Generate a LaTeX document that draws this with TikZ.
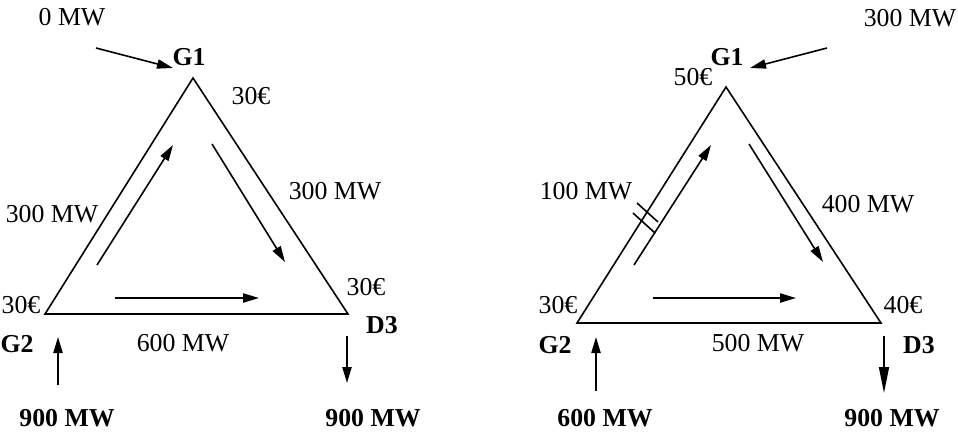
\documentclass[tikz,border=0pt]{standalone}
\usepackage{fontspec}
\setmainfont{Liberation Serif}
\usetikzlibrary{arrows.meta}
\begin{document}
\begin{tikzpicture}[x=0.5pt,y=-0.5pt,
  line width=0.8pt,
  lbl/.style={inner sep=0pt,font=\fontsize{12.9}{14}\selectfont},
  blbl/.style={inner sep=0pt,font=\fontsize{12.9}{14}\selectfont\bfseries},
  flow/.style={-{Triangle[length=8pt,width=4.6pt]}},
  bigflow/.style={-{Triangle[length=13pt,width=5pt]}}]
\useasboundingbox (0,0) rectangle (958,436);
% ---------- left panel ----------
\coordinate (LA) at (193,78);
\coordinate (LB) at (45,314);
\coordinate (LC) at (348,314);
\draw (LA) -- (LB) -- (LC) -- cycle;
\coordinate (la1) at (97,265); \coordinate (la2) at (173,145);
\draw[flow] (la1) -- (la2);
\coordinate (lb1) at (212,144); \coordinate (lb2) at (285,262);
\draw[flow] (lb1) -- (lb2);
\coordinate (lc1) at (115,298); \coordinate (lc2) at (259,298);
\draw[flow] (lc1) -- (lc2);
\coordinate (li1) at (96,48); \coordinate (li2) at (173,68);
\draw[flow] (li1) -- (li2);
\coordinate (lg1) at (58,385); \coordinate (lg2) at (58,337);
\draw[flow] (lg1) -- (lg2);
\coordinate (ld1) at (347,336); \coordinate (ld2) at (347,383);
\draw[flow] (ld1) -- (ld2);
\node[lbl] (l0mw) at (72,17) {0 MW};
\node[blbl] (lG1) at (189,57) {G1};
\node[lbl] (lp1) at (251,96) {30€};
\node[lbl] (lf13) at (335,191) {300 MW};
\node[lbl] (lf21) at (52,214) {300 MW};
\node[lbl] (lp2) at (21,305) {30€};
\node[lbl] (lp3) at (366,287) {30€};
\node[blbl] (lD3) at (382,325) {D3};
\node[blbl] (lG2) at (17,344) {G2};
\node[lbl] (lf23) at (183,343) {600 MW};
\node[blbl] (lg) at (67,418) {900 MW};
\node[blbl] (ld) at (373,418) {900 MW};
% ---------- right panel ----------
\coordinate (RA) at (726,87);
\coordinate (RB) at (577,323);
\coordinate (RC) at (881,323);
\draw (RA) -- (RB) -- (RC) -- cycle;
\coordinate (ra1) at (634,265); \coordinate (ra2) at (711,145);
\draw[flow] (ra1) -- (ra2);
\coordinate (rb1) at (749,144); \coordinate (rb2) at (823,262);
\draw[flow] (rb1) -- (rb2);
\coordinate (rc1) at (653,298); \coordinate (rc2) at (796,298);
\draw[flow] (rc1) -- (rc2);
\coordinate (ri1) at (827,48); \coordinate (ri2) at (750,68);
\draw[flow] (ri1) -- (ri2);
\coordinate (rg1) at (596,391); \coordinate (rg2) at (596,337);
\draw[flow] (rg1) -- (rg2);
\coordinate (rd1) at (884,336); \coordinate (rd2) at (884,393);
\draw[bigflow] (rd1) -- (rd2);
% congestion marks
\coordinate (m1a) at (637,203); \coordinate (m1b) at (658,222);
\coordinate (m2a) at (633,213); \coordinate (m2b) at (655,233);
\draw (m1a) -- (m1b);
\draw (m2a) -- (m2b);
\node[lbl] (r300) at (910,18) {300 MW};
\node[blbl] (rG1) at (727,57) {G1};
\node[lbl] (rp1) at (693,77) {50€};
\node[lbl] (rf21) at (586,191) {100 MW};
\node[lbl] (rf13) at (868,204) {400 MW};
\node[lbl] (rp2) at (558,305) {30€};
\node[lbl] (rp3) at (903,305) {40€};
\node[blbl] (rG2) at (555,345) {G2};
\node[lbl] (rf23) at (758,343) {500 MW};
\node[blbl] (rD3) at (919,345) {D3};
\node[blbl] (rg) at (605,418) {600 MW};
\node[blbl] (rd) at (892,418) {900 MW};
\end{tikzpicture}
\end{document}
